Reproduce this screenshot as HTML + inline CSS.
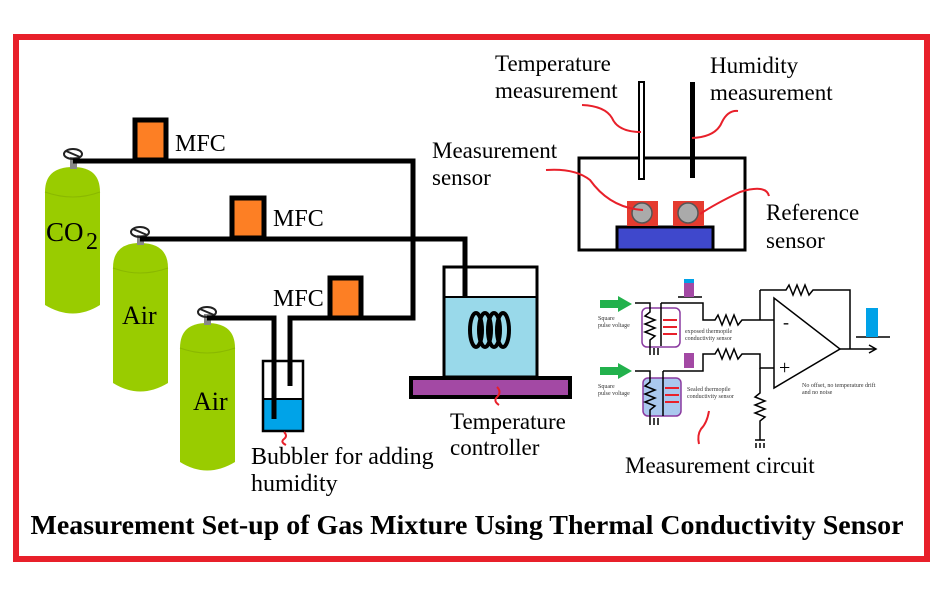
<!DOCTYPE html>
<html><head><style>
html,body{margin:0;padding:0;background:#fff;}
svg text{font-family:"Liberation Serif",serif;}
</style></head><body>
<svg width="946" height="598" viewBox="0 0 946 598" xmlns="http://www.w3.org/2000/svg">
<rect x="0" y="0" width="946" height="598" fill="#fff"/>
<rect x="16" y="37" width="911" height="522" fill="none" stroke="#e8202a" stroke-width="6"/>

<!-- cylinders -->
<g fill="#99cc00">
<path d="M45,192 Q45,167 73,167 Q100,167 100,192 L100,305 Q73,322 45,305 Z"/>
<path d="M113,268 Q113,243 140,243 Q168,243 168,268 L168,383 Q140,400 113,383 Z"/>
<path d="M180,348 Q180,323 207,323 Q235,323 235,348 L235,462 Q207,479 180,462 Z"/>
</g>
<g fill="none" stroke="#8ab800" stroke-width="1">
<path d="M45,192 Q73,202 100,192"/><path d="M113,268 Q140,278 168,268"/><path d="M180,348 Q207,358 235,348"/>
</g>
<g fill="#888"><rect x="70" y="157" width="7" height="12"/><rect x="137" y="235" width="7" height="10"/><rect x="204" y="314" width="7" height="11"/></g>
<g fill="none" stroke="#222" stroke-width="2">
<ellipse cx="73" cy="154" rx="9" ry="5"/><ellipse cx="140" cy="232" rx="9" ry="5"/><ellipse cx="207" cy="312" rx="9" ry="5"/>
<line x1="66" y1="151" x2="80" y2="157"/><line x1="133" y1="229" x2="147" y2="235"/><line x1="200" y1="309" x2="214" y2="315"/>
</g>
<text x="46" y="241" font-size="27">CO</text><text x="86" y="249" font-size="24">2</text>
<text x="122" y="324" font-size="26">Air</text>
<text x="193" y="410" font-size="26">Air</text>

<!-- pipes -->
<g fill="none" stroke="#000" stroke-width="5">
<polyline points="73,161 413,161 413,318 290,318 290,386"/>
<polyline points="140,239 465,239 465,330 Q465,350 482,350 L497,350 Q514,350 514,330 L514,203 580,203"/>
<polyline points="207,318 274,318 274,419"/>
</g>

<!-- MFCs -->
<g fill="#fd7f24" stroke="#000" stroke-width="5">
<rect x="135" y="120" width="31" height="40"/>
<rect x="232" y="198" width="32" height="40"/>
<rect x="330" y="278" width="31" height="40"/>
</g>
<g font-size="24"><text x="175" y="151">MFC</text><text x="273" y="226">MFC</text><text x="273" y="306">MFC</text></g>

<!-- bubbler -->
<rect x="264" y="399" width="38" height="31" fill="#00a3e8"/>
<rect x="263" y="361" width="40" height="70" fill="none" stroke="#000" stroke-width="2.5"/>
<line x1="264" y1="399" x2="302" y2="399" stroke="#000" stroke-width="2"/>
<line x1="274" y1="330" x2="274" y2="419" stroke="#000" stroke-width="5"/>
<path d="M284,432 q4,4 0,7 q-4,3 2,6" stroke="#e8202a" stroke-width="2" fill="none"/>
<text x="251" y="464" font-size="24">Bubbler for adding</text>
<text x="251" y="491" font-size="24">humidity</text>

<!-- beaker -->
<rect x="444" y="297" width="93" height="80" fill="#99d9ea"/>
<rect x="444" y="267" width="93" height="110" fill="none" stroke="#000" stroke-width="3"/>
<line x1="444" y1="297" x2="537" y2="297" stroke="#000" stroke-width="2"/>
<g fill="none" stroke="#000" stroke-width="4">
<ellipse cx="476" cy="330" rx="6" ry="17"/><ellipse cx="485" cy="330" rx="6" ry="17"/><ellipse cx="494" cy="330" rx="6" ry="17"/><ellipse cx="503" cy="330" rx="6" ry="17"/>
</g>
<rect x="411" y="378" width="159" height="19" fill="#a349a4" stroke="#000" stroke-width="4"/>
<path d="M497,387 q5,5 0,10 q-4,4 2,8" stroke="#e8202a" stroke-width="2" fill="none"/>
<text x="450" y="429" font-size="23">Temperature</text>
<text x="450" y="455" font-size="23">controller</text>

<!-- chamber -->
<rect x="579" y="158" width="166" height="92" fill="none" stroke="#000" stroke-width="3"/>
<rect x="617" y="227" width="96" height="23" fill="#3f48cc" stroke="#000" stroke-width="3"/>
<rect x="627" y="201" width="31" height="25" fill="#e53b2f"/>
<rect x="673" y="201" width="31" height="25" fill="#e53b2f"/>
<circle cx="642" cy="213" r="10" fill="#aaa" stroke="#555" stroke-width="1.5"/>
<circle cx="688" cy="213" r="10" fill="#aaa" stroke="#555" stroke-width="1.5"/>
<rect x="639" y="82" width="5" height="97" fill="#fff" stroke="#000" stroke-width="2"/>
<rect x="690" y="82" width="5" height="96" fill="#000"/>
<g fill="none" stroke="#e8202a" stroke-width="2">
<path d="M582,105 Q605,106 612,118 Q618,132 641,132"/>
<path d="M738,111 Q728,110 722,122 Q716,137 692,138"/>
<path d="M546,170 Q575,168 590,180 Q610,208 643,210"/>
<path d="M769,196 Q766,184 740,192 Q715,204 700,214"/>
</g>
<g font-size="23">
<text x="495" y="71">Temperature</text><text x="495" y="98">measurement</text>
<text x="710" y="73">Humidity</text><text x="710" y="100">measurement</text>
<text x="432" y="158">Measurement</text><text x="432" y="185">sensor</text>
<text x="766" y="220">Reference</text><text x="766" y="248">sensor</text>
<text x="625" y="473">Measurement circuit</text>
</g>

<!-- circuit -->
<g fill="#22b14c"><polygon points="600,300 618,300 618,296 632,304 618,312 618,308 600,308"/><polygon points="600,367 618,367 618,363 632,371 618,379 618,375 600,375"/></g>
<rect x="643" y="378" width="38" height="38" rx="5" fill="#aac8ee" stroke="#8a3aa0" stroke-width="1.5"/>
<rect x="642" y="308" width="38" height="39" rx="5" fill="none" stroke="#8a3aa0" stroke-width="1.5"/>
<g fill="none" stroke="#000" stroke-width="1.5">
<polyline points="635,303 650,303 650,312 645,316 655,320 645,324 655,328 645,332 655,336 650,340 650,348"/>
<polyline points="661,303 661,346"/>
<polyline points="661,303 703,303 703,320 715,320 718,315 722,325 726,315 730,325 734,315 738,325 742,320 774,320"/>
<polyline points="635,371 650,371 650,382 645,386 655,390 645,394 655,398 645,402 655,406 650,410 650,418"/>
<polyline points="663,371 663,416"/>
<polyline points="663,371 703,371 703,354 715,354 718,349 722,359 726,349 730,359 734,349 738,359 742,354 760,354 760,368 774,368"/>
<polyline points="760,368 760,393 755,397 765,401 755,405 765,409 755,413 765,417 760,421 760,440"/>
<polyline points="760,290 760,320"/>
<polyline points="760,290 786,290 789,285 793,295 797,285 801,295 805,285 809,295 813,290 850,290 850,349"/>
<polyline points="840,349 876,349"/><polyline points="869,345 876,349 869,353"/>
<polyline points="856,337 890,337"/>
<polyline points="678,297 702,297"/>
<polygon points="774,298 774,388 840,349"/>
<polyline points="755,440 765,440"/><polyline points="756,443 756,448"/><polyline points="760,443 760,448"/><polyline points="764,443 764,448"/>
<polyline points="650,348 650,355"/><polyline points="654,348 654,355"/><polyline points="658,348 658,355"/>
<polyline points="650,418 650,425"/><polyline points="654,418 654,425"/><polyline points="658,418 658,425"/>
</g>
<g fill="#e8202a">
<rect x="663" y="319" width="14" height="2"/><rect x="663" y="326" width="14" height="2"/><rect x="663" y="333" width="14" height="2"/>
<rect x="665" y="387" width="14" height="2"/><rect x="665" y="394" width="14" height="2"/><rect x="665" y="401" width="14" height="2"/>
</g>
<rect x="684" y="279" width="10" height="18" fill="#a349a4"/><rect x="684" y="279" width="10" height="4" fill="#00a2e8"/>
<rect x="684" y="353" width="10" height="15" fill="#a349a4"/>
<rect x="866" y="308" width="12" height="29" fill="#00a2e8"/>
<text x="783" y="328" font-size="18" font-family="Liberation Sans">-</text>
<text x="779" y="374" font-size="20" font-family="Liberation Sans">+</text>
<g font-size="6" font-family="Liberation Sans" fill="#333">
<text x="598" y="320">Square</text><text x="598" y="327">pulse voltage</text>
<text x="598" y="388">Square</text><text x="598" y="395">pulse voltage</text>
<text x="685" y="333">exposed thermopile</text><text x="685" y="340">conductivity sensor</text>
<text x="687" y="391">Sealed thermopile</text><text x="687" y="398">conductivity sensor</text>
<text x="802" y="387">No offset, no temperature drift</text><text x="802" y="394">and no noise</text>
</g>
<path d="M709,411 q-2,12 -8,18 q-4,6 -2,15" stroke="#e8202a" stroke-width="2" fill="none"/>

<text x="467" y="534" font-size="27.5" font-weight="bold" text-anchor="middle" textLength="873" lengthAdjust="spacingAndGlyphs">Measurement Set-up of Gas Mixture Using Thermal Conductivity Sensor</text>
</svg>
</body></html>
